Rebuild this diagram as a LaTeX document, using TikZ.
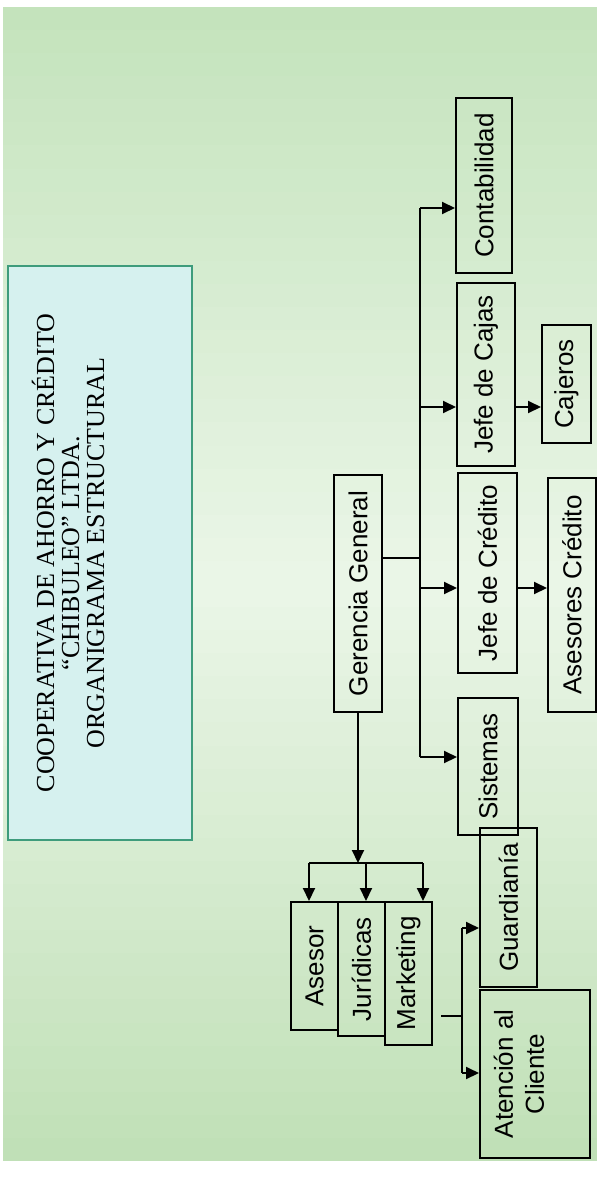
\documentclass[tikz,border=0pt]{standalone}
\usepackage{fontspec}
\usetikzlibrary{arrows.meta}
\setmainfont{Liberation Serif}
\newfontfamily\arialfont{Liberation Sans}
\definecolor{bgtop}{HTML}{C4E3BC}
\definecolor{bgmid}{HTML}{EBF6E8}
\definecolor{bgbot}{HTML}{C0E0B7}
\definecolor{titlefill}{HTML}{D6F1EF}
\definecolor{titleborder}{HTML}{3E9C7C}
\tikzset{
  org box/.style={
    draw,
    rotate=90,
    inner sep=0pt,
    align=center,
    font=\arialfont\fontsize{13}{15.5}\selectfont,
  },
  org label/.style={
    rotate=90,
    inner sep=0pt,
    align=center,
    font=\arialfont\fontsize{13}{15.5}\selectfont,
  },
  title box/.style={
    draw=titleborder,
    fill=titlefill,
    rotate=90,
    inner sep=0pt,
  },
  title text/.style={
    rotate=90,
    inner sep=0pt,
    align=center,
    font=\fontsize{13}{12.5}\selectfont,
  },
}

\begin{document}
\begin{tikzpicture}[x=0.5pt, y=-0.5pt, line width=1pt, >={Triangle[length=6.5pt, width=6pt]}]
        \useasboundingbox (0,0) rectangle (599,1178);
        % fondo degradado
        \foreach \i in {0,...,49}{
          \pgfmathtruncatemacro{\p}{abs(\i-24.5)/24.5*100}
          \pgfmathsetmacro{\ya}{7+\i*23.08}
          \pgfmathsetmacro{\yb}{min(\ya+23.6,1161)}
          \ifnum\i<25
            \fill[bgtop!\p!bgmid] (3,\ya) rectangle (597,\yb);
          \else
            \fill[bgbot!\p!bgmid] (3,\ya) rectangle (597,\yb);
          \fi
        }

        \node[title box, minimum width=287pt, minimum height=92pt] (titulo) at (100,553) {};
        \node[title text] (titulotxt) at (68,553) {COOPERATIVA DE AHORRO Y CRÉDITO\\“CHIBULEO” LTDA.\\ORGANIGRAMA ESTRUCTURAL};

        \node[org box, minimum width=118.5pt, minimum height=24pt]  (gerencia)     at (358,593.5)   {Gerencia General};
        \node[org box, minimum width=87.5pt,  minimum height=28pt]  (contabilidad) at (484,185.5)   {Contabilidad};
        \node[org box, minimum width=91.5pt,  minimum height=29pt]  (cajas)        at (486,374.5)   {Jefe de Cajas};
        \node[org box, minimum width=100pt,   minimum height=29.5pt](credito)      at (487.5,573)   {Jefe de Crédito};
        \node[org box, minimum width=59pt,    minimum height=24.5pt](cajeros)      at (566.5,384)   {Cajeros};
        \node[org box, minimum width=117pt,   minimum height=24pt]  (asesores)     at (572,595)     {Asesores Crédito};
        \node[org box, minimum width=68.5pt,  minimum height=30pt]  (sistemas)     at (488,766.5)   {Sistemas};
        \node[org box, minimum width=79.5pt,  minimum height=28.5pt](guardiania)   at (508.5,907.5) {Guardianía};
        \node[org box, minimum width=84pt,    minimum height=55pt]  (atencion)     at (535,1074)    {};
        \node[org label]                                            (atenciontxt)  at (519,1074)    {Atención al\\Cliente};
        \node[org box, minimum width=64pt,    minimum height=23.5pt](asesor)       at (314.5,966)   {Asesor};
        \node[org box, minimum width=67pt,    minimum height=23.5pt](juridicas)    at (361.5,969)   {Jurídicas};
        \node[org box, minimum width=71.5pt,  minimum height=23.5pt](marketing)    at (408.5,973.5) {Marketing};

        % tronco de la gerencia
        \coordinate (tg) at (420,558);
        \coordinate (t1) at (420,208);
        \coordinate (t2) at (420,407);
        \coordinate (t3) at (420,588);
        \coordinate (t4) at (420,757);
        \draw (gerencia.south |- tg) -- (tg);
        \draw (t1) -- (t4);
        \path[->] (t1) edge (t1 -| contabilidad.north);
        \path[->] (t2) edge (t2 -| cajas.north);
        \path[->] (t3) edge (t3 -| credito.north);
        \path[->] (t4) edge (t4 -| sistemas.north);
        \path[->] (cajas.south |- t2)   edge (t2 -| cajeros.north);
        \path[->] (credito.south |- t3) edge (t3 -| asesores.north);

        % staff
        \coordinate (b0) at (358,863);
        \coordinate (b1) at (309,863);
        \coordinate (b2) at (366,863);
        \coordinate (b3) at (423,863);
        \path[->] (gerencia.west) edge (b0);
        \draw (b1) -- (b3);
        \path[->] (b1) edge (b1 |- asesor.east);
        \path[->] (b2) edge (b2 |- juridicas.east);
        \path[->] (b3) edge (b3 |- marketing.east);

        % marketing
        \coordinate (m0) at (441,1016);
        \coordinate (m1) at (462,1016);
        \coordinate (g1) at (462,928);
        \coordinate (g2) at (462,1073);
        \draw (m0) -- (m1);
        \draw (g1) -- (g2);
        \path[->] (g1) edge (g1 -| guardiania.north);
        \path[->] (g2) edge (g2 -| atencion.north);
      \end{tikzpicture}
\end{document}
